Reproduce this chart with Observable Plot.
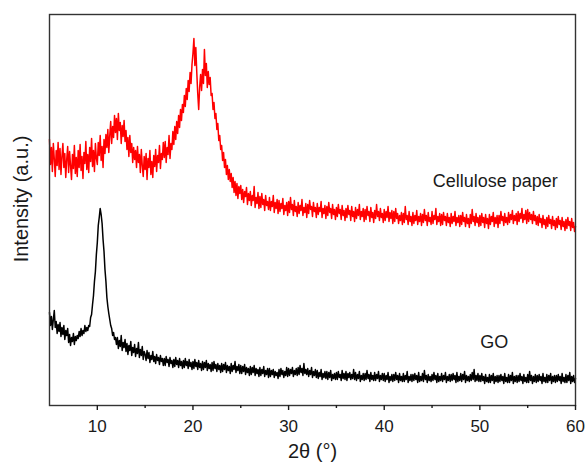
<!DOCTYPE html>
<html>
<head>
<meta charset="utf-8">
<script src="https://cdn.jsdelivr.net/npm/d3@7"></script>
<script src="https://cdn.jsdelivr.net/npm/@observablehq/plot@0.6"></script>
<style>
  html, body { margin: 0; padding: 0; background: #fff; }
</style>
</head>
<body>
<script>
// Sampling grid: 2θ from 5° to 60° in 0.1° steps
const twoThetaStart = 5;
const twoThetaStep = 0.1;

// Cellulose paper intensity (a.u.) (one row of 10 per degree)
const celluloseIntensity = [
  266,241,258,234,262,247,229,255,240,263,
  236,257,231,249,262,238,252,228,246,259,
  233,254,240,226,251,237,260,232,248,229,
  255,238,261,235,249,227,253,242,264,236,
  251,233,258,244,267,239,255,234,262,247,
  241,263,250,270,245,259,238,266,252,271,
  258,276,253,270,284,262,279,268,290,273,
  287,266,292,275,283,262,280,269,285,264,
  275,256,268,249,270,253,262,243,258,246,
  255,238,259,243,251,233,256,240,229,249,
  236,252,226,247,238,255,231,244,228,250,
  239,256,234,250,243,260,237,252,246,263,
  248,264,243,258,251,270,247,262,256,274,
  261,279,266,284,272,290,278,296,285,301,
  293,310,299,317,306,325,314,333,322,341,
  352,367,340,358,333,312,296,318,331,315,
  336,322,356,330,342,318,334,321,328,310,
  312,296,303,287,292,276,282,265,270,256,
  260,245,253,238,246,231,240,226,236,224,
  232,218,228,213,224,210,222,207,219,212,
  220,206,216,203,214,209,218,201,212,205,
  214,200,210,205,219,198,208,202,213,197,
  209,198,212,201,206,195,210,200,204,196,
  208,195,204,199,210,193,203,197,206,192,
  205,194,202,197,207,191,200,195,203,190,
  204,193,208,196,201,190,205,194,199,189,
  203,192,200,195,206,190,198,193,202,188,
  201,192,205,196,199,189,203,194,198,188,
  202,191,198,194,204,188,197,192,200,187,
  199,190,203,193,197,187,201,191,196,186,
  198,189,201,192,196,186,200,190,195,185,
  197,188,200,191,195,185,199,189,194,184,
  198,187,196,190,201,186,194,189,197,184,
  196,186,199,190,194,184,198,188,193,183,
  195,187,201,189,194,185,197,188,192,183,
  196,185,194,188,199,184,193,187,195,182,
  194,184,197,187,192,182,190,185,193,181,
  192,183,199,186,190,181,194,184,189,180,
  193,182,190,185,195,181,189,184,192,180,
  191,183,196,185,190,180,193,184,188,181,
  194,182,190,186,197,181,189,184,192,180,
  191,181,193,185,189,180,192,183,188,179,
  192,182,189,184,194,180,188,183,190,179,
  190,181,193,184,188,179,191,182,187,178,
  191,182,196,184,189,180,192,183,188,179,
  190,180,192,183,188,178,191,182,187,177,
  191,181,189,184,193,179,188,182,190,178,
  190,182,194,185,189,180,192,183,188,181,
  193,183,191,186,195,182,190,185,192,181,
  194,184,192,187,197,183,191,186,195,182,
  196,184,193,186,191,182,194,185,190,181,
  189,180,191,183,187,178,190,181,186,177,
  188,179,190,182,186,177,189,180,185,176,
  187,178,189,181,185,176,188,179,184,175,
  186,177,188,180,184,175,187,178,183,174,
  179
];

// GO intensity (a.u.) (one row of 10 per degree)
const goIntensity = [
  93,80,89,76,86,95,78,84,72,81,
  74,83,69,78,71,80,66,75,70,77,
  63,71,60,68,64,72,61,69,65,70,
  67,74,69,77,70,75,72,80,74,78,
  75,80,79,88,91,101,110,124,134,151,
  163,180,188,197,191,182,166,154,136,124,
  108,99,92,86,80,77,70,73,66,68,
  61,68,57,65,59,70,55,63,58,66,
  54,62,51,60,55,64,50,58,53,61,
  49,57,52,63,48,56,50,59,46,54,
  51,45,55,47,53,43,50,46,54,44,
  49,42,51,45,48,41,50,44,47,40,
  47,40,49,43,46,39,48,42,45,38,
  46,39,48,41,45,38,47,40,44,37,
  45,38,47,40,44,37,46,39,43,36,
  44,37,46,39,43,36,45,38,42,35,
  44,36,43,38,45,35,42,37,41,34,
  43,35,44,37,41,34,42,36,40,33,
  42,34,41,36,43,33,40,35,39,32,
  42,34,40,36,44,33,39,35,41,32,
  40,32,39,34,41,31,38,33,37,30,
  39,31,38,33,40,30,37,32,36,29,
  38,30,36,32,39,29,35,31,37,28,
  37,29,35,31,36,28,34,30,33,27,
  36,29,37,31,35,28,34,30,38,29,
  37,30,36,32,38,29,35,31,37,30,
  38,31,40,33,37,30,42,32,36,31,
  37,29,35,31,38,28,34,30,36,28,
  35,27,33,29,36,26,32,28,34,27,
  34,26,33,28,35,25,31,27,32,26,
  33,26,34,28,31,25,35,27,32,26,
  34,25,32,28,33,26,31,27,36,26,
  33,25,31,27,34,24,30,26,32,25,
  32,26,35,27,31,24,33,26,30,25,
  33,25,31,27,34,24,30,26,32,25,
  32,24,30,26,33,23,29,25,31,24,
  31,25,33,26,30,23,32,25,29,24,
  32,24,30,26,34,23,29,25,31,24,
  31,25,32,26,30,23,33,24,29,25,
  32,24,35,26,30,23,31,25,29,24,
  31,25,33,26,30,23,32,24,29,25,
  32,24,30,26,33,23,29,25,31,24,
  31,25,32,26,30,23,33,24,29,25,
  32,24,31,26,34,23,30,25,29,24,
  31,25,33,26,36,24,30,25,32,24,
  30,24,32,25,29,22,31,24,28,23,
  31,23,30,25,32,22,29,24,30,23,
  30,24,31,25,29,22,32,24,28,23,
  31,23,30,25,33,22,29,24,30,23,
  30,24,32,25,29,22,31,24,28,23,
  31,23,34,25,30,22,29,24,31,23,
  30,24,31,25,29,22,32,24,28,23,
  31,23,30,25,32,22,29,24,30,23,
  30,24,31,25,29,22,32,24,28,23,
  31,23,30,25,33,22,29,24,30,23,
  27
];

// Axis ticks
const majorTicks = [10, 20, 30, 40, 50, 60];
const minorTicks = [15, 25, 35, 45, 55];

// Labels
const xAxisLabel = "2θ (°)";
const yAxisLabel = "Intensity (a.u.)";
const seriesNames = ["Cellulose paper", "GO"];
const seriesLabelX = [51.6, 51.5];
const seriesLabelY = [224, 63];

const toRows = (arr) => arr.map((v, i) => ({x: twoThetaStart + i * twoThetaStep, y: v}));
const celluloseRows = toRows(celluloseIntensity);
const goRows = toRows(goIntensity);
const annotations = seriesNames.map((t, i) => ({text: t, x: seriesLabelX[i], y: seriesLabelY[i]}));

const font = "'Liberation Sans', Arial, Helvetica, sans-serif";

const chart = Plot.plot({
  width: 585,
  height: 464,
  marginTop: 14,
  marginBottom: 59,
  marginLeft: 49,
  marginRight: 10,
  style: {fontFamily: font, fontSize: "17px", color: "#1a1a1a", background: "#fff"},
  x: {domain: [5, 60]},
  y: {domain: [0, 391], axis: null},
  marks: [
    Plot.line(celluloseRows, {x: "x", y: "y", stroke: "#ff0000", strokeWidth: 1.5}),
    Plot.line(goRows, {x: "x", y: "y", stroke: "#000000", strokeWidth: 1.5}),
    Plot.frame({stroke: "#333", strokeWidth: 1.4}),
    Plot.axisX({ticks: majorTicks, tickSize: 5, tickPadding: 9, label: null, fontSize: 17, strokeWidth: 1.4}),
    Plot.axisX({ticks: minorTicks, tickSize: 3, tickFormat: () => "", label: null, strokeWidth: 1.4}),
    Plot.text([xAxisLabel], {frameAnchor: "bottom", lineAnchor: "middle", dy: 46, fontSize: 20, fill: "#1a1a1a"}),
    Plot.text([yAxisLabel], {frameAnchor: "left", textAnchor: "middle", lineAnchor: "middle", rotate: -90, dx: -28, dy: -11, fontSize: 20, fill: "#1a1a1a"}),
    Plot.text(annotations, {x: "x", y: "y", text: "text", fontSize: 18, fill: "#1a1a1a"})
  ]
});
document.body.appendChild(chart);
</script>
</body>
</html>
